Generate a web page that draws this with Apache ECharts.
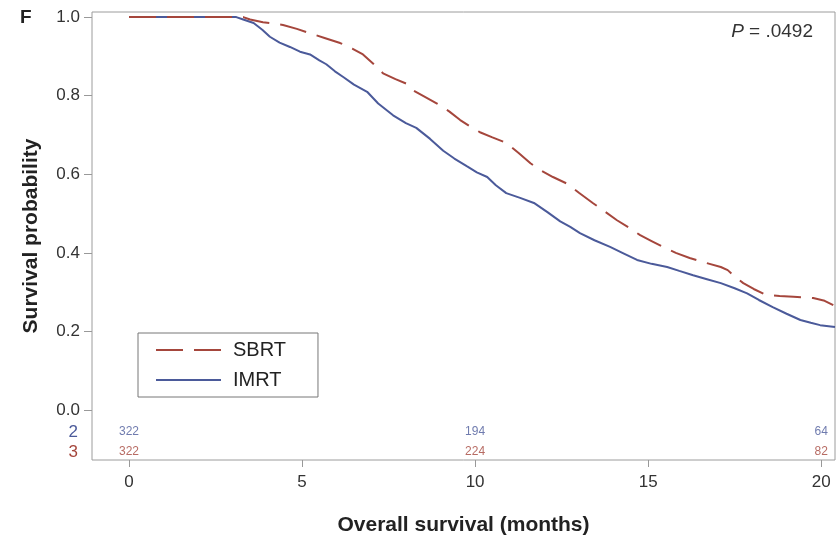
<!DOCTYPE html>
<html>
<head>
<meta charset="utf-8">
<script src="https://cdn.jsdelivr.net/npm/echarts@6/dist/echarts.min.js"></script>
<style>
  html, body { margin: 0; padding: 0; background: #fff; }
  #chart { width: 837px; height: 541px; }
</style>
</head>
<body>
<div id="chart"></div>
<script>
// Kaplan-Meier curves: [months, survival probability]
const imrtCurve = [
  [0, 1], [3.1, 1], [3.3, 0.994], [3.6, 0.985], [3.85, 0.968], [4.07, 0.95],
  [4.35, 0.935], [4.65, 0.924], [4.94, 0.912], [5.23, 0.905], [5.5, 0.89],
  [5.7, 0.88], [5.95, 0.862], [6.2, 0.847], [6.5, 0.828], [6.88, 0.81],
  [7.2, 0.78], [7.63, 0.75], [8.0, 0.73], [8.3, 0.718], [8.7, 0.69],
  [9.08, 0.66], [9.4, 0.64], [9.77, 0.62], [10.05, 0.605], [10.35, 0.593],
  [10.6, 0.572], [10.9, 0.552], [11.3, 0.54], [11.7, 0.527], [12.1, 0.503],
  [12.46, 0.48], [12.75, 0.466], [13.03, 0.45], [13.45, 0.432], [13.9, 0.415],
  [14.3, 0.398], [14.68, 0.382], [15.1, 0.372], [15.55, 0.364], [15.9, 0.354],
  [16.3, 0.343], [16.7, 0.333], [17.1, 0.323], [17.5, 0.31], [17.86, 0.297],
  [18.2, 0.28], [18.6, 0.262], [19.0, 0.245], [19.4, 0.229], [19.7, 0.222],
  [19.97, 0.216], [20.4, 0.211]
];
const sbrtCurve = [
  [0, 1], [3.3, 1], [3.5, 0.994], [3.87, 0.987], [4.45, 0.98], [4.85, 0.97],
  [5.23, 0.959], [5.65, 0.947], [6.1, 0.934], [6.45, 0.92], [6.76, 0.905],
  [7.05, 0.882], [7.34, 0.857], [7.7, 0.842], [8.03, 0.83], [8.2, 0.814],
  [8.55, 0.797], [8.9, 0.78], [9.25, 0.76], [9.57, 0.738], [9.85, 0.722],
  [10.14, 0.707], [10.5, 0.694], [10.9, 0.68], [11.25, 0.655], [11.6, 0.628],
  [11.9, 0.61], [12.25, 0.593], [12.66, 0.576], [13.0, 0.553], [13.4, 0.527],
  [13.75, 0.505], [14.1, 0.483], [14.45, 0.464], [14.77, 0.445], [15.1, 0.43],
  [15.43, 0.415], [15.8, 0.4], [16.2, 0.387], [16.65, 0.375], [17.1, 0.364],
  [17.3, 0.356], [17.5, 0.34], [17.75, 0.323], [18.05, 0.308], [18.4, 0.293],
  [18.8, 0.29], [19.2, 0.288], [19.77, 0.285], [20.1, 0.278], [20.35, 0.267]
];

// numbers at risk
const riskTimes = [0, 10, 20];
const riskIMRT = [322, 194, 64];
const riskSBRT = [322, 224, 82];
const riskRows = ["2", "3"];

const xTicks = [0, 5, 10, 15, 20];
const yTicks = [0, 0.2, 0.4, 0.6, 0.8, 1.0];
const pValue = ".0492";

const BLUE = "#4b5a9a";
const RED = "#a5463c";
const FONT = '"Liberation Sans", Arial, sans-serif';

const chart = echarts.init(document.getElementById("chart"), null, { renderer: "canvas" });

const xRange = { min: -1.07, max: 20.4 };

chart.setOption({
  backgroundColor: "#fff",
  animation: false,
  textStyle: { fontFamily: FONT },
  grid: [
    // outer frame (plot + risk table)
    { left: 92, right: 2, top: 12, bottom: 78, show: true, borderColor: "#9c9c9c", borderWidth: 1, backgroundColor: "transparent" },
    // survival plot
    { left: 92, right: 2, top: 12, height: 398 },
    // numbers at risk
    { left: 92, right: 2, top: 422, height: 40 },
  ],
  xAxis: [
    {
      gridIndex: 0,
      type: "value",
      ...xRange,
      name: "Overall survival (months)",
      nameLocation: "middle",
      nameGap: 55,
      nameTextStyle: { fontSize: 21, fontWeight: "bold", color: "#222" },
      axisLine: { show: false },
      splitLine: { show: false },
      axisTick: { show: true, length: 7, customValues: xTicks, lineStyle: { color: "#999" } },
      axisLabel: { customValues: xTicks, fontSize: 17, color: "#333", margin: 14 },
    },
    { gridIndex: 1, type: "value", ...xRange, show: false },
    { gridIndex: 2, type: "value", ...xRange, show: false },
  ],
  yAxis: [
    {
      gridIndex: 0,
      type: "value",
      min: 0,
      max: 1,
      name: "Survival probability",
      nameLocation: "middle",
      nameGap: 50,
      nameTextStyle: { fontSize: 21, fontWeight: "bold", color: "#222" },
      axisLine: { show: false, onZero: false },
      axisTick: { show: false },
      axisLabel: { show: false },
      splitLine: { show: false },
    },
    {
      gridIndex: 1,
      type: "value",
      min: 0,
      max: 1.013,
      axisLine: { show: false, onZero: false },
      splitLine: { show: false },
      axisTick: { show: true, length: 8, customValues: yTicks, lineStyle: { color: "#999" } },
      axisLabel: {
        customValues: yTicks,
        fontSize: 17,
        color: "#333",
        margin: 12,
        formatter: (v) => v.toFixed(1),
      },
    },
    {
      gridIndex: 2,
      type: "category",
      data: riskRows,
      inverse: true,
      axisLine: { show: false, onZero: false },
      axisTick: { show: false },
      splitLine: { show: false },
      axisLabel: {
        interval: 0,
        fontSize: 17,
        margin: 14,
        formatter: (v) => (v === "2" ? "{b|" + v + "}" : "{r|" + v + "}"),
        rich: { b: { color: BLUE, fontSize: 17 }, r: { color: RED, fontSize: 17 } },
      },
    },
  ],
  legend: {
    data: ["SBRT", "IMRT"],
    orient: "vertical",
    left: 138,
    top: 333,
    padding: [7, 32, 7, 17],
    itemWidth: 65,
    itemHeight: 14,
    itemGap: 10,
    borderColor: "#777",
    borderWidth: 1,
    backgroundColor: "#fff",
    itemStyle: { opacity: 0 },
    textStyle: { fontSize: 20, lineHeight: 20, color: "#222", padding: [0, 0, 0, 7] },
  },
  graphic: [
    { type: "text", left: 20, top: 8, style: { text: "F", font: "bold 19px " + FONT, fill: "#222" } },
    {
      type: "text",
      right: 24,
      top: 22,
      style: {
        text: "{i|P} = " + pValue,
        rich: { i: { fontStyle: "italic", fontSize: 19, fill: "#333", fontFamily: FONT } },
        font: "19px " + FONT,
        fill: "#333",
      },
    },
  ],
  series: [
    {
      name: "SBRT",
      type: "line",
      xAxisIndex: 1,
      yAxisIndex: 1,
      symbol: "none",
      clip: false,
      data: sbrtCurve,
      color: RED,
      lineStyle: { color: RED, width: 2, type: [27, 11] },
      z: 3,
    },
    {
      name: "IMRT",
      type: "line",
      xAxisIndex: 1,
      yAxisIndex: 1,
      symbol: "none",
      clip: false,
      data: imrtCurve,
      color: BLUE,
      lineStyle: { color: BLUE, width: 2 },
      z: 2,
    },
    {
      name: "at risk IMRT",
      type: "scatter",
      xAxisIndex: 2,
      yAxisIndex: 2,
      symbolSize: 0,
      silent: true,
      data: riskTimes.map((t, i) => [t, 0, riskIMRT[i]]),
      label: { show: true, position: "inside", formatter: (p) => String(p.value[2]), fontSize: 12, color: BLUE },
    },
    {
      name: "at risk SBRT",
      type: "scatter",
      xAxisIndex: 2,
      yAxisIndex: 2,
      symbolSize: 0,
      silent: true,
      data: riskTimes.map((t, i) => [t, 1, riskSBRT[i]]),
      label: { show: true, position: "inside", formatter: (p) => String(p.value[2]), fontSize: 12, color: RED },
    },
  ],
});
</script>
</body>
</html>
